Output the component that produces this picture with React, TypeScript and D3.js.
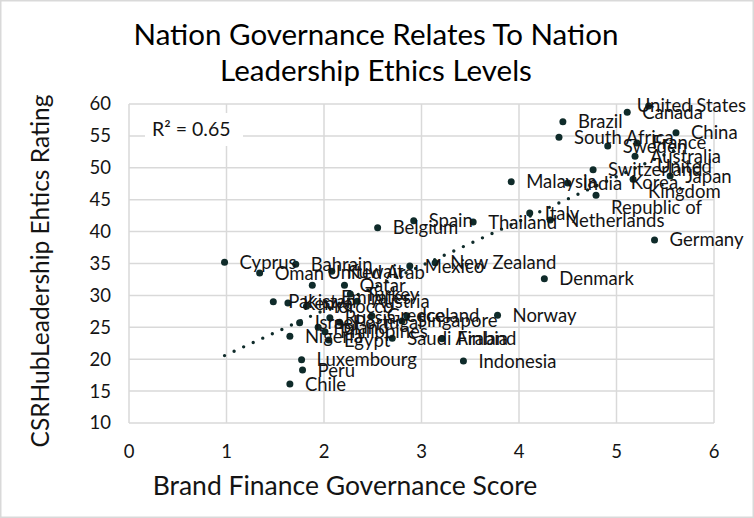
import { useEffect, useRef } from "react";
import * as d3 from "d3";

const countries = [
  "United States", "Canada", "Brazil", "South Africa", "China", "France",
  "Sweden", "Australia", "United\nKingdom", "Switzerland", "Japan",
  "Korea,\nRepublic of", "Malaysia", "India", "Italy", "Netherlands",
  "Thailand", "Spain", "Belgium", "Germany", "New Zealand", "Mexico",
  "Denmark", "Norway", "Indonesia", "Cyprus", "Oman", "Bahrain", "Kuwait",
  "United Arab\nEmirates", "Qatar", "Turkey", "Pakistan", "Kenya", "Morocco",
  "Austria", "Israel", "Russia", "Greece", "Iceland", "Singapore", "Poland",
  "Portugal", "Philippines", "Nigeria", "Egypt", "Saudi Arabia", "Finland",
  "Luxembourg", "Peru", "Chile",
];

const govScores = [
  5.33, 5.11, 4.45, 4.41, 5.61, 5.21, 4.91, 5.19, 5.17, 4.76, 5.55, 4.79,
  3.92, 4.5, 4.11, 4.32, 3.53, 2.92, 2.55, 5.39, 3.14, 2.88, 4.26, 3.78,
  3.43, 0.98, 1.34, 1.71, 2.08, 1.88, 2.21, 2.27, 1.48, 1.63, 1.82, 2.34,
  1.75, 2.06, 2.49, 2.85, 2.8, 1.94, 2.16, 2.01, 1.65, 2.05, 2.7, 3.21,
  1.77, 1.78, 1.65,
];

const ethicsRatings = [
  59.7, 58.7, 57.2, 54.8, 55.5, 53.9, 53.4, 51.8, 48.2, 49.7, 48.7, 45.7,
  47.8, 47.6, 42.9, 41.8, 41.5, 41.7, 40.6, 38.7, 35.1, 34.6, 32.6, 26.9,
  19.7, 35.2, 33.5, 34.9, 33.8, 31.6, 31.6, 30.2, 29.0, 28.8, 28.3, 29.1,
  25.7, 26.5, 26.8, 26.8, 26.0, 25.0, 25.8, 24.3, 23.6, 23.0, 23.3, 23.2,
  19.9, 18.3, 16.1,
];

const xTicks = [0, 1, 2, 3, 4, 5, 6];
const yTicks = [10, 15, 20, 25, 30, 35, 40, 45, 50, 55, 60];
const titleLines = ["Nation Governance Relates To Nation", "Leadership Ethics Levels"];
const xTitle = "Brand Finance Governance Score";
const yTitle = "CSRHubLeadership Ehtics Rating";
const r2Text = "R² = 0.65";

const W = 754,
  H = 518,
  plotLeft = 129,
  plotRight = 714,
  plotTop = 104,
  plotBottom = 423,
  font = "Lato, 'Open Sans', sans-serif",
  ink = "#141414",
  dotColor = "#0f2b2a",
  grid = "#d9d9d9";

export default function App() {
  const ref = useRef<SVGSVGElement>(null);

  useEffect(() => {
    const svg = d3.select(ref.current);
    svg.selectAll("*").remove();
    drawChart(svg);
  }, []);

  return (
    <svg
      ref={ref}
      width={W}
      height={H}
      style={{ position: "absolute", left: 0, top: 0, background: "#fff" }}
    />
  );
}

function drawChart(svg: any) {
  const x = d3.scaleLinear().domain([0, 6]).range([plotLeft, plotRight]);
  const y = d3.scaleLinear().domain([10, 60]).range([plotBottom, plotTop]);

  svg
    .append("rect")
    .attr("x", 0.75)
    .attr("y", 0.75)
    .attr("width", W - 1.5)
    .attr("height", H - 1.5)
    .attr("fill", "#fff")
    .attr("stroke", grid)
    .attr("stroke-width", 1.5);

  // title
  svg
    .append("g")
    .selectAll("text")
    .data(titleLines)
    .enter()
    .append("text")
    .attr("x", 376)
    .attr("y", (_d: string, i: number) => 45 + i * 36)
    .attr("text-anchor", "middle")
    .attr("font-family", font)
    .attr("font-size", 29.5)
    .attr("fill", "#000")
    .text((d: string) => d);

  // gridlines
  svg
    .append("g")
    .selectAll("line")
    .data(yTicks)
    .enter()
    .append("line")
    .attr("x1", plotLeft)
    .attr("x2", plotRight)
    .attr("y1", (d: number) => y(d))
    .attr("y2", (d: number) => y(d))
    .attr("stroke", grid)
    .attr("stroke-width", 1.5);

  svg
    .append("g")
    .selectAll("line")
    .data(xTicks)
    .enter()
    .append("line")
    .attr("x1", (d: number) => x(d))
    .attr("x2", (d: number) => x(d))
    .attr("y1", plotTop)
    .attr("y2", plotBottom)
    .attr("stroke", grid)
    .attr("stroke-width", 1.5);

  // tick labels
  svg
    .append("g")
    .selectAll("text")
    .data(yTicks)
    .enter()
    .append("text")
    .attr("x", 111)
    .attr("y", (d: number) => y(d))
    .attr("dy", "0.35em")
    .attr("text-anchor", "end")
    .attr("font-family", font)
    .attr("font-size", 18.5)
    .attr("fill", ink)
    .text((d: number) => d);

  svg
    .append("g")
    .selectAll("text")
    .data(xTicks)
    .enter()
    .append("text")
    .attr("x", (d: number) => x(d))
    .attr("y", 452)
    .attr("dy", "0.35em")
    .attr("text-anchor", "middle")
    .attr("font-family", font)
    .attr("font-size", 18.5)
    .attr("fill", ink)
    .text((d: number) => d);

  // axis titles
  svg
    .append("text")
    .attr("x", 345)
    .attr("y", 486)
    .attr("dy", "0.35em")
    .attr("text-anchor", "middle")
    .attr("font-family", font)
    .attr("font-size", 26.5)
    .attr("fill", ink)
    .text(xTitle);

  svg
    .append("text")
    .attr("transform", "translate(40,271) rotate(-90)")
    .attr("dy", "0.35em")
    .attr("text-anchor", "middle")
    .attr("font-family", font)
    .attr("font-size", 24.5)
    .attr("fill", ink)
    .text(yTitle);

  // linear trendline from the data
  const mx = d3.mean(govScores) as number;
  const my = d3.mean(ethicsRatings) as number;
  const slope =
    d3.sum(govScores, (v, i) => (v - mx) * (ethicsRatings[i] - my)) /
    d3.sum(govScores, (v) => (v - mx) * (v - mx));
  const intercept = my - slope * mx;
  const [x0, x1] = d3.extent(govScores) as [number, number];
  const trend = d3
    .line<number>()
    .x((d) => x(d))
    .y((d) => y(intercept + slope * d));

  svg
    .append("path")
    .attr("d", trend([x0, x1]))
    .attr("fill", "none")
    .attr("stroke", dotColor)
    .attr("stroke-width", 3.4)
    .attr("stroke-linecap", "round")
    .attr("stroke-dasharray", "0 10.5");

  // points
  const pts = countries.map((name, i) => ({
    name,
    gx: govScores[i],
    ey: ethicsRatings[i],
  }));

  svg
    .append("g")
    .selectAll("circle")
    .data(pts)
    .enter()
    .append("circle")
    .attr("cx", (d: any) => x(d.gx))
    .attr("cy", (d: any) => y(d.ey))
    .attr("r", 3.5)
    .attr("fill", dotColor);

  // data labels, placed right of each point, pulled back inside the chart edge
  const labels = svg.append("g");
  pts.forEach((d) => {
    const lines = d.name.split("\n");
    const lineGap = 25;
    const t = labels
      .append("text")
      .attr("font-family", font)
      .attr("font-size", 18.5)
      .attr("fill", ink)
      .attr("text-anchor", lines.length > 1 ? "middle" : "start");
    lines.forEach((ln: string, k: number) => {
      t.append("tspan")
        .attr("y", y(d.ey) + (k - (lines.length - 1) / 2) * lineGap)
        .attr("dy", "0.35em")
        .text(ln);
    });
    const widths = (t.selectAll("tspan").nodes() as SVGTSpanElement[]).map((n) =>
      n.getComputedTextLength()
    );
    const maxW = d3.max(widths) as number;
    let left = x(d.gx) + 15;
    if (left + maxW > W - 8) left = W - 8 - maxW;
    t.selectAll("tspan").attr("x", lines.length > 1 ? left + maxW / 2 : left);
  });

  // R² box
  svg
    .append("rect")
    .attr("x", 145)
    .attr("y", 113)
    .attr("width", 98)
    .attr("height", 33)
    .attr("fill", "#fff");

  svg
    .append("text")
    .attr("x", 152)
    .attr("y", 129)
    .attr("dy", "0.35em")
    .attr("font-family", font)
    .attr("font-size", 19.5)
    .attr("fill", ink)
    .text(r2Text);
}
